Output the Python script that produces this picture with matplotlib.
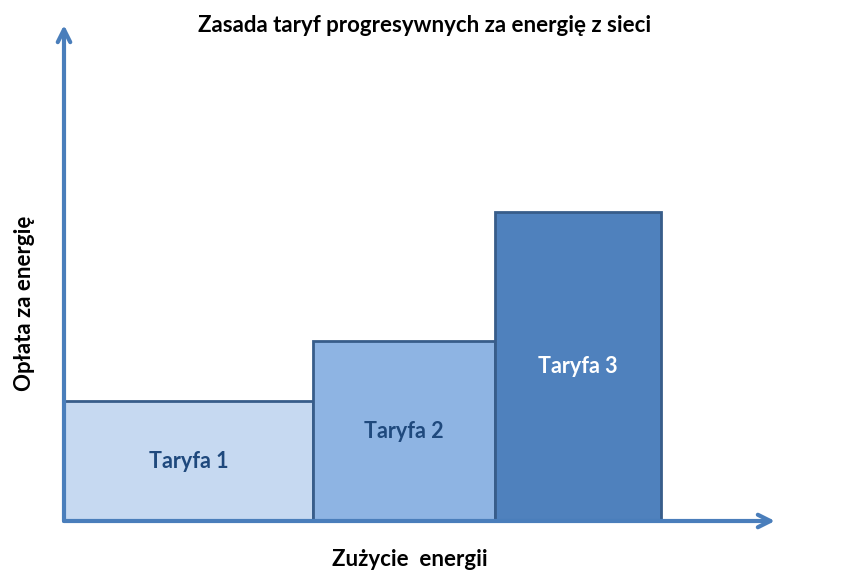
import matplotlib
matplotlib.use("Agg")
import matplotlib.pyplot as plt

# tariff blocks: widths along consumption and price level (arbitrary units)
tariff_labels = ["Taryfa 1", "Taryfa 2", "Taryfa 3"]
tariff_widths = [249, 182, 166]
tariff_heights = [120, 180, 309]

fill_colors = ["#c6d9f1", "#8eb4e3", "#4f81bd"]
text_colors = ["#1f497d", "#1f497d", "white"]
edge_color = "#385d8a"
axis_color = "#4a7ebb"

W, H = 856, 588
fig = plt.figure(figsize=(W / 100, H / 100), dpi=100)
x0, y0 = 64, 521
ax = fig.add_axes([x0 / W, (H - y0) / H, (780 - x0) / W, (y0 - 20) / H])
ax.set_xlim(0, 780 - x0)
ax.set_ylim(0, y0 - 20)
ax.axis("off")

plt.rcParams['font.family'] = ['Lato', 'DejaVu Sans']

left = 0
for lab, w, h, fc, tc in zip(tariff_labels, tariff_widths, tariff_heights, fill_colors, text_colors):
    ax.bar(left, h, width=w, align="edge", color=fc, edgecolor=edge_color, linewidth=2, zorder=2)
    ax.text(left + w / 2, h / 2, lab, ha="center", va="center", color=tc,
            fontsize=15.5, fontweight="bold", zorder=3)
    left += w

# axes with arrows
arrow = dict(arrowstyle="->,head_length=0.9,head_width=0.45", color=axis_color, lw=3,
             shrinkA=0, shrinkB=0)
ax.annotate("", xy=(711, 0), xytext=(0, 0), arrowprops=arrow, zorder=4, annotation_clip=False)
ax.annotate("", xy=(0, 496), xytext=(0, 0), arrowprops=arrow, zorder=4, annotation_clip=False)

fig.text(425 / W, 1 - 25 / H, "Zasada taryf progresywnych za energię z sieci", ha="center", va="center",
         fontsize=16, fontweight="bold", color="black")
fig.text(410 / W, 1 - 560 / H, "Zużycie  energii", ha="center", va="center",
         fontsize=16, fontweight="bold", color="black")
fig.text(25 / W, 1 - 303 / H, "Opłata za energię", ha="center", va="center", rotation=90,
         fontsize=16, fontweight="bold", color="black")

fig.savefig("out.png", dpi=100)
